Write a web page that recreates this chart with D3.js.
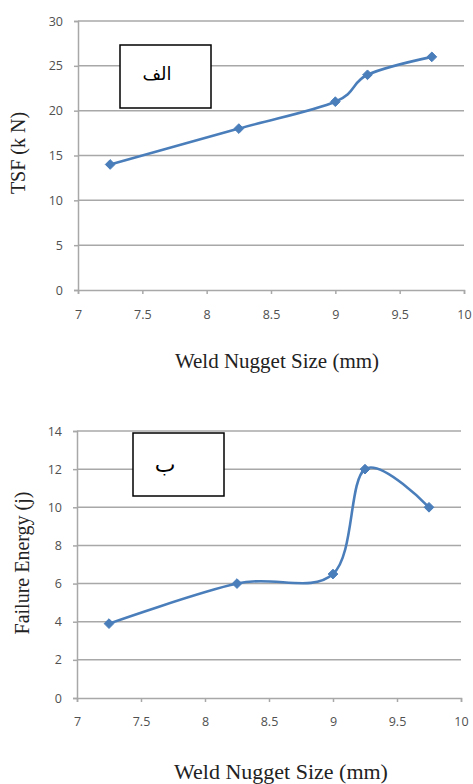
<!DOCTYPE html>
<html>
<head>
<meta charset="utf-8">
<script src="https://cdn.jsdelivr.net/npm/d3@7"></script>
<style>
  html, body { margin: 0; padding: 0; background: #ffffff; }
  svg { display: block; }
</style>
</head>
<body>
<svg id="chart" width="473" height="784"></svg>
<script>
// Weld nugget size (mm) shared by both panels
const nuggetSize = [7.25, 8.25, 9, 9.25, 9.75];
// Tensile-shear force (kN)
const tsfValues = [14, 18, 21, 24, 26];
// Failure energy (J)
const energyValues = [3.9, 6, 6.5, 12, 10];

const xTicks = [7, 7.5, 8, 8.5, 9, 9.5, 10];
const tsfTicks = [0, 5, 10, 15, 20, 25, 30];
const energyTicks = [0, 2, 4, 6, 8, 10, 12, 14];

const xTitle = "Weld Nugget Size (mm)";
const tsfTitle = "TSF (k N)";
const energyTitle = "Failure Energy (j)";
const tsfTag = "الف";
const energyTag = "ب";

const svg = d3.select("#chart");
const lineColor = "#4a7ebb";
const gridColor = "#a8a8a8";
const tickColor = "#505050";

function drawPanel(opt) {
  const g = svg.append("g");
  const x = d3.scaleLinear().domain([xTicks[0], xTicks[xTicks.length - 1]]).range([opt.left, opt.right]);
  const y = d3.scaleLinear().domain([opt.yTicks[0], opt.yTicks[opt.yTicks.length - 1]]).range([opt.bottom, opt.top]);

  // horizontal gridlines
  g.append("g").selectAll("line")
    .data(opt.yTicks.filter(d => d !== opt.yTicks[0]))
    .join("line")
    .attr("x1", opt.left).attr("x2", opt.right)
    .attr("y1", d => y(d)).attr("y2", d => y(d))
    .attr("stroke", gridColor).attr("stroke-width", 1.5);

  // y axis
  const yAxis = g.append("g")
    .attr("transform", `translate(${opt.left},0)`)
    .call(d3.axisLeft(y).tickValues(opt.yTicks).tickFormat(d3.format("d")).tickSize(4).tickPadding(11));
  // x axis
  const xAxis = g.append("g")
    .attr("transform", `translate(0,${opt.bottom})`)
    .call(d3.axisBottom(x).tickValues(xTicks).tickFormat(d => String(d)).tickSize(4).tickPadding(opt.xPad));

  [yAxis, xAxis].forEach(a => {
    a.select(".domain").attr("stroke", gridColor).attr("stroke-width", 1.5);
    a.selectAll(".tick line").attr("stroke", gridColor).attr("stroke-width", 1.5);
    a.selectAll(".tick text")
      .attr("fill", tickColor)
      .style("font-family", "'Open Sans', 'Liberation Sans', sans-serif")
      .style("font-size", "12.5px");
  });

  // data line, smoothed
  const pts = nuggetSize.map((v, i) => [v, opt.values[i]]);
  g.append("path")
    .datum(pts)
    .attr("fill", "none")
    .attr("stroke", lineColor)
    .attr("stroke-width", 2.6)
    .attr("stroke-linejoin", "round")
    .attr("d", d3.line().x(d => x(d[0])).y(d => y(d[1])).curve(d3.curveCardinal.tension(0)));

  // diamond markers
  g.append("g").selectAll("path")
    .data(pts)
    .join("path")
    .attr("transform", d => `translate(${x(d[0])},${y(d[1])})`)
    .attr("d", d3.symbol().type(d3.symbolDiamond2).size(60))
    .attr("fill", lineColor)
    .attr("stroke", lineColor)
    .attr("stroke-width", 1);

  // x title
  g.append("text")
    .attr("x", opt.xTitleX).attr("y", opt.xTitleY)
    .attr("text-anchor", "middle")
    .attr("fill", "#222")
    .style("font-family", "'Liberation Serif', 'DejaVu Serif', serif")
    .style("font-size", opt.xTitleSize + "px")
    .text(xTitle);

  // y title
  g.append("text")
    .attr("transform", `translate(${opt.yTitleX},${opt.yTitleY}) rotate(-90)`)
    .attr("text-anchor", "middle")
    .attr("fill", "#222")
    .style("font-family", "'Liberation Serif', 'DejaVu Serif', serif")
    .style("font-size", opt.yTitleSize + "px")
    .text(opt.yTitle);

  // tag box
  g.append("rect")
    .attr("x", opt.box[0]).attr("y", opt.box[1])
    .attr("width", opt.box[2]).attr("height", opt.box[3])
    .attr("fill", "#fff").attr("stroke", "#000").attr("stroke-width", 1.5);
  g.append("text")
    .attr("x", opt.tagPos[0]).attr("y", opt.tagPos[1])
    .attr("text-anchor", "middle")
    .attr("fill", "#000")
    .style("font-family", "'DejaVu Sans', 'Noto Sans', sans-serif")
    .style("font-size", opt.tagSize + "px")
    .text(opt.tag);
}

drawPanel({
  left: 78, right: 464, top: 21, bottom: 290,
  yTicks: tsfTicks, values: tsfValues, xPad: 16,
  xTitleX: 277, xTitleY: 368, xTitleSize: 21,
  yTitleX: 25, yTitleY: 153, yTitleSize: 20, yTitle: tsfTitle,
  box: [120, 45, 91, 63], tagPos: [157, 80], tagSize: 18, tag: tsfTag
});

drawPanel({
  left: 77, right: 461, top: 431, bottom: 698,
  yTicks: energyTicks, values: energyValues, xPad: 15,
  xTitleX: 281, xTitleY: 779, xTitleSize: 22,
  yTitleX: 29, yTitleY: 563, yTitleSize: 20, yTitle: energyTitle,
  box: [133, 433, 91, 63], tagPos: [165, 472], tagSize: 22, tag: energyTag
});
</script>
</body>
</html>
